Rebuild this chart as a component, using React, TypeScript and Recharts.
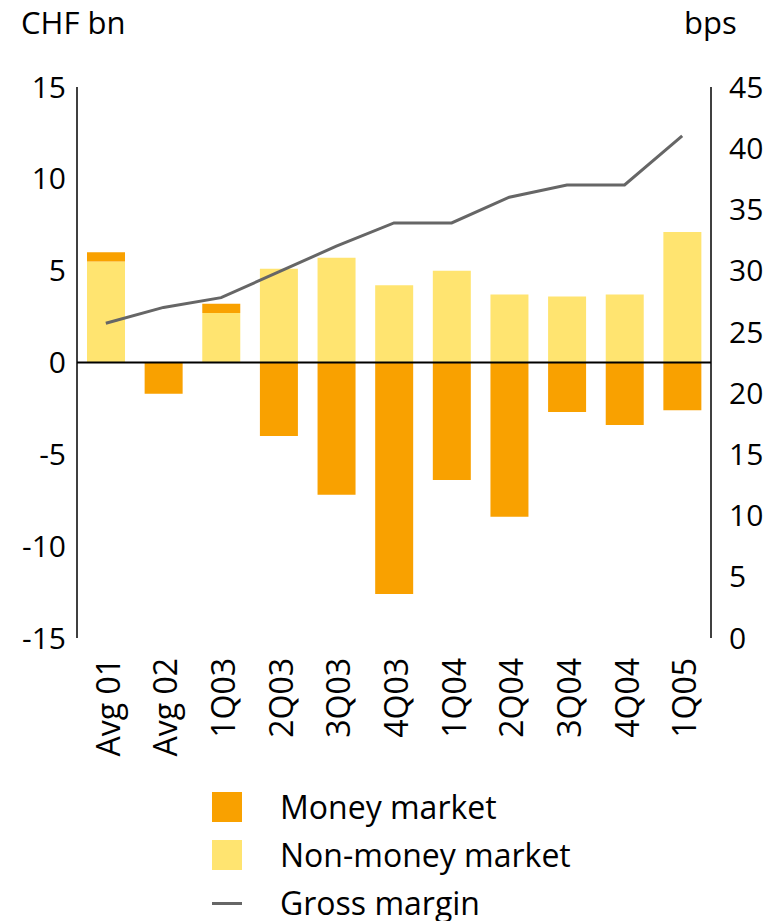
import React from 'react';
import { ComposedChart, Bar, Line, XAxis, YAxis, ReferenceLine } from 'recharts';

// values
const categories = ['Avg 01', 'Avg 02', '1Q03', '2Q03', '3Q03', '4Q03', '1Q04', '2Q04', '3Q04', '4Q04', '1Q05'];
const moneyMarket = [0.5, -1.7, 0.5, -4.0, -7.2, -12.6, -6.4, -8.4, -2.7, -3.4, -2.6];
const nonMoneyMarket = [5.5, 0, 2.7, 5.1, 5.7, 4.2, 5.0, 3.7, 3.6, 3.7, 7.1];
const grossMargin = [25.7, 27.0, 27.8, 29.9, 32.0, 33.9, 33.9, 36.0, 37.0, 37.0, 41.0];

const leftTicks = [-15, -10, -5, 0, 5, 10, 15];
const rightTicks = [0, 5, 10, 15, 20, 25, 30, 35, 40, 45];

const MONEY = '#F9A100';
const NON_MONEY = '#FFE470';
const LINE = '#666666';
const FONT = '"Open Sans", "Noto Sans", sans-serif';

const data = categories.map((c, i) => ({
  name: c,
  money: moneyMarket[i],
  nonMoney: nonMoneyMarket[i],
  margin: grossMargin[i],
}));

const CategoryTick = (props: any) => {
  const { x, y, payload } = props;
  return (
    <text
      x={0}
      y={0}
      transform={`translate(${x + 14},${y + 12}) rotate(-90)`}
      textAnchor="end"
      fill="#000"
      fontSize={32}
      fontFamily={FONT}
    >
      {payload.value}
    </text>
  );
};

const legendItems = [
  { label: 'Money market', kind: 'box', color: MONEY },
  { label: 'Non-money market', kind: 'box', color: NON_MONEY },
  { label: 'Gross margin', kind: 'line', color: LINE },
];

export default function App() {
  const tickStyle = { fill: '#000', fontSize: 30, fontFamily: FONT };
  return (
    <div style={{ position: 'absolute', left: 0, top: 0, width: 776, height: 921, background: '#fff', fontFamily: FONT, overflow: 'hidden' }}>
      <div style={{ position: 'absolute', left: 21, top: 0, fontSize: 31, lineHeight: '44px', color: '#000' }}>CHF bn</div>
      <div style={{ position: 'absolute', left: 684, top: 0, fontSize: 31, lineHeight: '44px', color: '#000' }}>bps</div>
      <ComposedChart
        width={776}
        height={921}
        data={data}
        stackOffset="sign"
        barSize={38}
        margin={{ top: 87, right: 0, bottom: 143, left: 0 }}
      >
        <XAxis
          dataKey="name"
          xAxisId={0}
          height={140}
          axisLine={false}
          tickLine={false}
          tick={<CategoryTick />}
          interval={0}
        />
        <YAxis
          yAxisId="left"
          orientation="left"
          width={77}
          domain={[-15, 15]}
          ticks={leftTicks}
          tickLine={false}
          tickMargin={5}
          axisLine={{ stroke: '#000', strokeWidth: 1.5 }}
          tick={tickStyle}
          interval={0}
        />
        <YAxis
          yAxisId="right"
          orientation="right"
          width={65}
          domain={[0, 45]}
          ticks={rightTicks}
          tickLine={false}
          tickMargin={12}
          axisLine={{ stroke: '#000', strokeWidth: 1.5 }}
          tick={tickStyle}
          interval={0}
        />
        <Bar dataKey="nonMoney" stackId="a" yAxisId="left" fill={NON_MONEY} isAnimationActive={false} />
        <Bar dataKey="money" stackId="a" yAxisId="left" fill={MONEY} isAnimationActive={false} />
        <ReferenceLine y={0} yAxisId="left" stroke="#000" strokeWidth={2} />
        <Line
          dataKey="margin"
          yAxisId="right"
          type="linear"
          stroke={LINE}
          strokeWidth={3}
          dot={false}
          isAnimationActive={false}
        />
      </ComposedChart>
      <div style={{ position: 'absolute', left: 212, top: 783 }}>
        {legendItems.map((item) => (
          <div key={item.label} style={{ display: 'flex', alignItems: 'center', height: 48 }}>
            <div style={{ width: 30, height: 30, display: 'flex', alignItems: 'center' }}>
              {item.kind === 'box' ? (
                <div style={{ width: 30, height: 30, background: item.color }} />
              ) : (
                <div style={{ width: 30, height: 3, background: item.color }} />
              )}
            </div>
            <span style={{ marginLeft: 38, fontSize: 32, lineHeight: '48px', color: '#000' }}>{item.label}</span>
          </div>
        ))}
      </div>
    </div>
  );
}
